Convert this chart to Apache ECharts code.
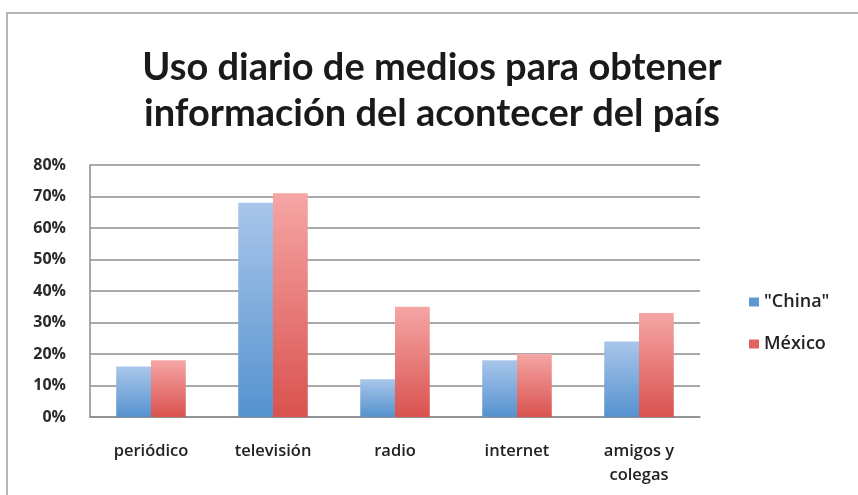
<!DOCTYPE html>
<html><head><meta charset="utf-8">
<script src="https://cdn.jsdelivr.net/npm/echarts@6/dist/echarts.min.js"></script>
<style>html,body{margin:0;padding:0;background:#fff}#c{width:858px;height:495px}</style>
</head><body><div id="c"></div>
<script>
const categories = ['periódico', 'televisión', 'radio', 'internet', 'amigos y\ncolegas'];
const china = [0.16, 0.68, 0.12, 0.18, 0.24];
const mexico = [0.18, 0.71, 0.35, 0.20, 0.33];
const seriesNames = ['"China"', 'México'];
const titleText = 'Uso diario de medios para obtener\ninformación del acontecer del país';

const chart = echarts.init(document.getElementById('c'), null, {renderer: 'canvas'});
const blueGrad = new echarts.graphic.LinearGradient(0, 0, 0, 1, [{offset: 0, color: '#a9c6ea'}, {offset: 1, color: '#5592cf'}]);
const redGrad = new echarts.graphic.LinearGradient(0, 0, 0, 1, [{offset: 0, color: '#f5a6a5'}, {offset: 1, color: '#d9524f'}]);
chart.setOption({
  backgroundColor: '#fff',
  animation: false,
  graphic: [{type: 'rect', shape: {x: 7, y: 13, width: 900, height: 600}, style: {fill: 'none', stroke: '#b5b5b5', lineWidth: 2}, silent: true}],
  title: {
    text: titleText, left: 427, top: 40, textAlign: 'center',
    textStyle: {fontFamily: 'Lato', fontWeight: 'bold', fontSize: 38, lineHeight: 46, color: '#1a1a1a'}
  },
  legend: {
    orient: 'vertical', left: 744, top: 288, itemWidth: 10, itemHeight: 9, itemGap: 24,
    icon: 'rect',
    textStyle: {fontFamily: 'Open Sans', fontWeight: 600, fontSize: 18, color: '#222'},
    data: [{name: seriesNames[0], itemStyle: {color: '#5f98d3'}}, {name: seriesNames[1], itemStyle: {color: '#e06562'}}]
  },
  grid: {left: 90, right: 158, top: 165, bottom: 78},
  xAxis: {
    type: 'category', data: categories,
    axisLine: {lineStyle: {color: '#8c8c8c', width: 1.5}},
    axisTick: {show: false},
    axisLabel: {fontFamily: 'Open Sans', fontWeight: 600, fontSize: 16.5, color: '#222', margin: 22, lineHeight: 24}
  },
  yAxis: {
    type: 'value', min: 0, max: 0.8, interval: 0.1,
    axisLine: {show: true, lineStyle: {color: '#8c8c8c', width: 1.5}},
    axisTick: {show: false},
    splitLine: {lineStyle: {color: '#8c8c8c', width: 1.5}},
    axisLabel: {fontFamily: 'Open Sans', fontWeight: 'bold', fontSize: 16, color: '#2a2a2a', margin: 24,
      formatter: v => Math.round(v * 100) + '%'}
  },
  series: [
    {name: seriesNames[0], type: 'bar', data: china, barGap: '0%', barCategoryGap: '43%', itemStyle: {color: blueGrad}},
    {name: seriesNames[1], type: 'bar', data: mexico, barGap: '0%', barCategoryGap: '43%', itemStyle: {color: redGrad}}
  ]
});
</script></body></html>
